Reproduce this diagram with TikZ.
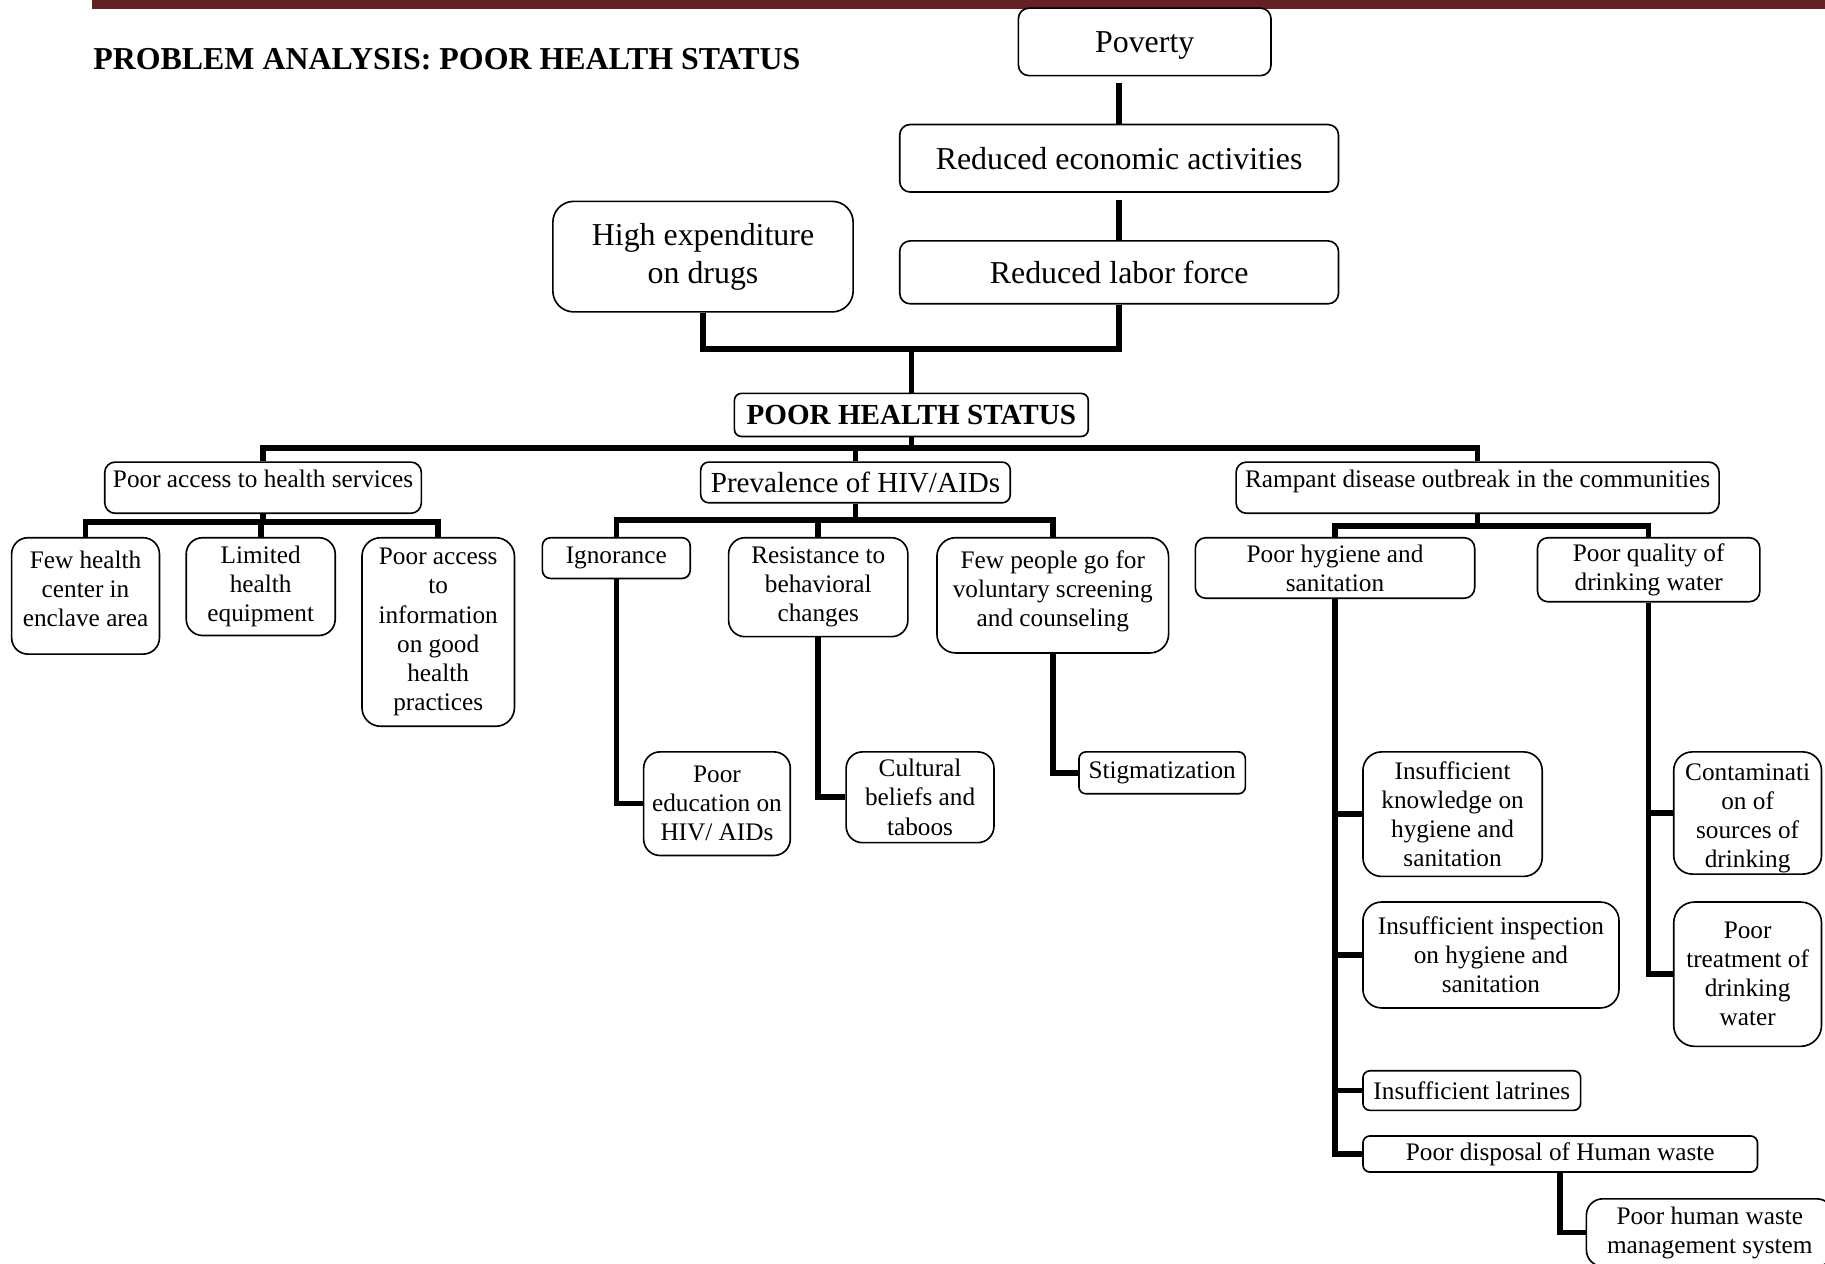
\documentclass[tikz,border=0pt]{standalone}
\usepackage{fontspec}
\setmainfont{Liberation Serif}
\definecolor{rulemaroon}{RGB}{99,33,36}
\tikzset{
  box/.style={draw, fill=white, rounded corners=9pt, line width=1.4pt,
    align=center, inner sep=0pt},
  big/.style={font=\fontsize{27.4}{33}\selectfont},
  mid/.style={font=\fontsize{25}{30}\selectfont},
  small/.style={font=\fontsize{21.7}{25}\selectfont},
  sz/.style 2 args={minimum width=#1pt, minimum height=#2pt},
  conn/.style={line width=4.8pt},
}
\begin{document}
\begin{tikzpicture}[x=1pt, y=-1pt]
\path[use as bounding box] (0,0) rectangle (1568,1086);
\clip (0,0) rectangle (1568,1086);
\fill[white] (0,0) rectangle (1568,1086);

% header rule and heading
\fill[rulemaroon] (79,0) rectangle (1568,7.5);
\node[anchor=base west, inner sep=0pt, font=\bfseries\fontsize{27.4}{33}\selectfont] (title) at (80,60)
  {PROBLEM ANALYSIS: POOR HEALTH STATUS};

% effects
\node[box, big, sz={217}{58}, text height=24pt] (poverty) at (983.5,36) {Poverty};
\node[box, big, sz={377}{58}] (reco) at (961.5,136) {Reduced economic activities};
\node[box, big, sz={377}{54}] (labor) at (961.5,234) {Reduced labor force};
\node[box, big, sz={258}{95}, rounded corners=18pt] (hiexp) at (604,220.5) {High expenditure\\on drugs};

% core problem
\node[box, mid, sz={304}{37}, rounded corners=6pt, font=\bfseries\fontsize{25}{30}\selectfont] (phs) at (783,356.5) {POOR HEALTH STATUS};

% direct causes
\node[box, small, sz={272}{44}, text depth=15pt] (access) at (226,419) {Poor access to health services};
\node[box, mid, sz={266}{35}, rounded corners=7pt] (prev) at (735,414.5) {Prevalence of HIV/AIDs};
\node[box, small, sz={415}{44}, text depth=15pt] (rampant) at (1269.5,419) {Rampant disease outbreak in the communities};

% causes of poor access
\node[box, small, sz={127}{100}, rounded corners=14pt, text depth=12pt] (few) at (73.5,512) {Few health\\center in\\enclave area};
\node[box, small, sz={128}{84}, rounded corners=14pt] (limited) at (224,504) {Limited\\health\\equipment};
\node[box, small, sz={131}{162}, rounded corners=16pt] (poorinfo) at (376.5,543) {Poor access\\to\\information\\on good\\health\\practices};

% causes of HIV/AIDs prevalence
\node[box, small, sz={127}{35}, rounded corners=7pt] (ign) at (529.5,479.5) {Ignorance};
\node[box, small, sz={154}{85}, rounded corners=14pt] (resist) at (703,504.5) {Resistance to\\behavioral\\changes};
\node[box, small, sz={199}{99}, rounded corners=16pt, text depth=12pt] (fewpeople) at (904.5,511.5) {Few people go for\\voluntary screening\\and counseling};
\node[box, small, sz={126}{89}, rounded corners=14pt] (pedu) at (616,690.5) {Poor\\education on\\HIV/ AIDs};
\node[box, small, sz={127}{78}, rounded corners=14pt] (cult) at (790.5,685) {Cultural\\beliefs and\\taboos};
\node[box, small, sz={143}{36}, rounded corners=6pt] (stig) at (998.5,664) {Stigmatization};

% causes of disease outbreak
\node[box, small, sz={240}{52}] (hyg) at (1147,488) {Poor hygiene and\\sanitation};
\node[box, small, sz={191}{55}] (water) at (1416.5,489.5) {Poor quality of\\drinking water};
\node[box, small, sz={154}{107}, rounded corners=16pt] (know) at (1248,699.5) {Insufficient\\knowledge on\\hygiene and\\sanitation};
\node[box, small, sz={220}{91}, rounded corners=16pt] (insp) at (1281,820.5) {Insufficient inspection\\on hygiene and\\sanitation};
\node[box, small, sz={187}{34}, rounded corners=6pt] (latr) at (1264.5,937) {Insufficient latrines};
\node[box, small, sz={339}{31}, rounded corners=6pt] (disp) at (1340.5,991.5) {Poor disposal of Human waste};
\node[box, small, sz={212}{58}, rounded corners=14pt] (hw) at (1469,1059) {Poor human waste\\management system};

\node[box, sz={127}{105}, rounded corners=16pt] (contam) at (1501.5,698.5) {};
\begin{scope}
  \clip[rounded corners=16pt] (contam.north west) rectangle (contam.south east);
  \node[small, align=center, inner sep=0pt] (contamtext) at (1501.5,703) {Contaminati\\on of\\sources of\\drinking};
\end{scope}
\node[box, small, sz={127}{124}, rounded corners=18pt] (treat) at (1501.5,837) {Poor\\treatment of\\drinking\\water};

% links between effects
\draw[conn, shorten >=6pt] (reco.north) -- (reco.north |- poverty.south);
\draw[conn, shorten >=6pt] (labor.north) -- (labor.north |- reco.south);
\coordinate (j1) at (783,300);
\draw[conn] (hiexp.south) |- (j1) -| (labor.south);
\draw[conn] (j1) -- (phs.north);

% main bus to direct causes
\coordinate (bus) at (783,385);
\draw[conn] (phs.south) -- (bus);
\draw[conn] (access.north) |- (bus) -| (rampant.north);
\draw[conn] (prev.north) -- (prev.north |- bus);

% branches below direct causes
\draw[conn] (access.south) -- ++(0,7) coordinate (sa);
\draw[conn] (few.north) |- (sa) -| (poorinfo.north);
\draw[conn] (limited.north) -- (limited.north |- sa);

\draw[conn] (prev.south) -- ++(0,14) coordinate (sp);
\draw[conn] (ign.north) |- (sp) -| (fewpeople.north);
\draw[conn] (resist.north) -- (resist.north |- sp);

\draw[conn] (rampant.south) -- ++(0,10) coordinate (sr);
\draw[conn] (hyg.north) |- (sr) -| (water.north);

% elbow links to root causes
\draw[conn] (ign.south) |- (pedu.west);
\draw[conn] (resist.south) |- (cult.west);
\draw[conn] (fewpeople.south) |- (stig.west);

\draw[conn] (hyg.south) |- (disp.west);
\draw[conn] (hyg.south |- know.west) -- (know.west);
\draw[conn] (hyg.south |- insp.west) -- (insp.west);
\draw[conn] (hyg.south |- latr.west) -- (latr.west);
\draw[conn] (disp.south) |- (hw.west);

\draw[conn] (water.south) |- (treat.west);
\draw[conn] (water.south |- contam.west) -- (contam.west);
\end{tikzpicture}
\end{document}
